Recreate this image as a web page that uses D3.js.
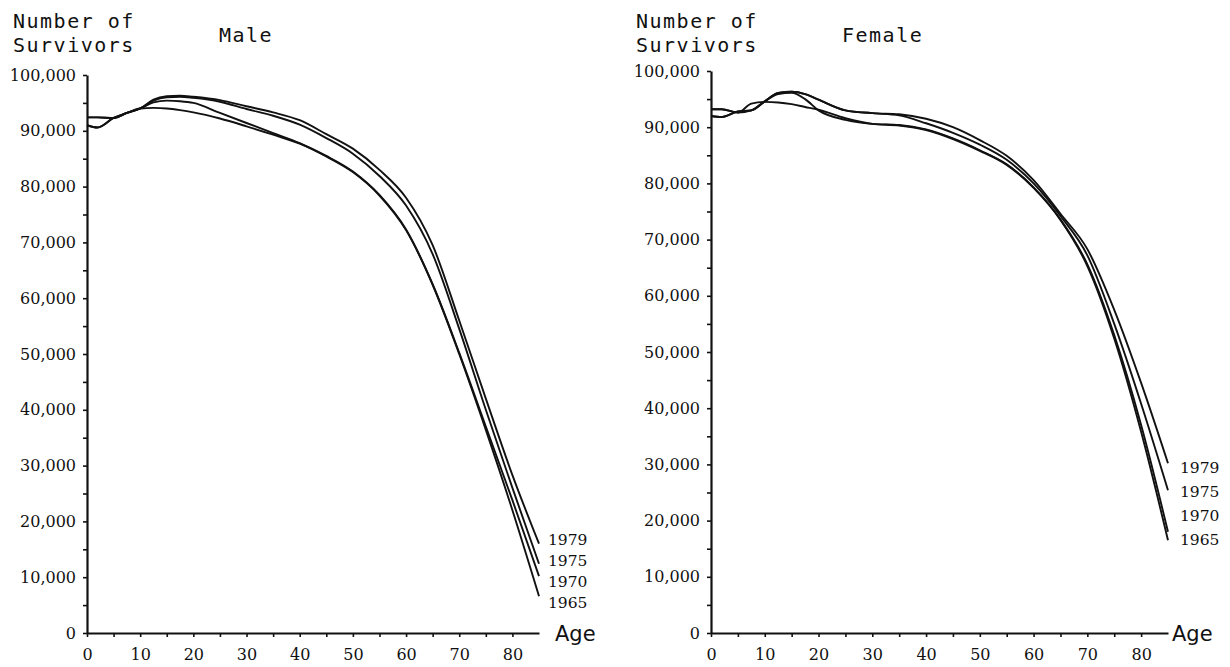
<!DOCTYPE html>
<html><head><meta charset="utf-8">
<script src="https://cdn.jsdelivr.net/npm/d3@7"></script>
<style>html,body{margin:0;padding:0;background:#fff;} svg{display:block;background:#fff}</style>
</head><body><svg id="chart" width="1230" height="667"></svg>
<script>
// ---- data ----
const ages = [0, 2, 5, 7.5, 10, 12.5, 15, 17.5, 20, 25, 30, 35, 40, 45, 50, 55, 60, 65, 70, 75, 80, 85];
const years = ["1979", "1975", "1970", "1965"];

const male1979 = [91000, 90600, 92300, 93200, 94000, 95600, 96200, 96300, 96100, 95500, 94400, 93300, 91900, 89400, 86800, 83000, 78000, 69500, 56000, 42000, 28300, 16000];
const male1975 = [91000, 90600, 92300, 93200, 94000, 95400, 96000, 96100, 95900, 95200, 93900, 92700, 91100, 88700, 85900, 81900, 76600, 67900, 54500, 40000, 26000, 12400];
const male1970 = [92400, 92400, 92300, 93200, 94000, 95100, 95400, 95300, 95000, 93200, 91400, 89600, 87800, 85500, 82700, 78500, 72300, 62500, 50200, 37000, 23800, 10200];
const male1965 = [92400, 92400, 92300, 93200, 94000, 94100, 94000, 93700, 93300, 92200, 90800, 89300, 87700, 85400, 82600, 78400, 72200, 62400, 50000, 36400, 22000, 6600];

const female1979 = [92000, 91800, 92800, 93000, 94600, 96100, 96300, 95900, 94900, 93000, 92500, 92300, 91500, 90000, 87700, 84900, 80600, 74600, 68300, 57500, 44500, 30200];
const female1975 = [92000, 91800, 92800, 93000, 94600, 96100, 96300, 95900, 94900, 93000, 92500, 92100, 90700, 89000, 86900, 84200, 80000, 74200, 67200, 55000, 40800, 25400];
const female1970 = [93200, 93200, 92600, 93000, 94600, 95900, 96100, 95000, 93000, 91300, 90600, 90400, 89600, 88000, 85900, 83400, 79300, 73600, 65600, 53000, 37000, 18000];
const female1965 = [93200, 93200, 92600, 94200, 94500, 94400, 94100, 93600, 93100, 91600, 90600, 90300, 89500, 87900, 85800, 83300, 79200, 73500, 65300, 52400, 35800, 16500];

const yTickValues = d3.range(0, 100001, 5000);
const xTickValues = d3.range(0, 81, 5);
const yAxisTitle = ["Number of", "Survivors"];
const xAxisTitle = "Age";

// ---- drawing ----
const svg = d3.select("#chart");
svg.append("rect").attr("width", 1230).attr("height", 667).attr("fill", "#fff");

function panel(opt) {
  const x = d3.scaleLinear().domain([0, 85]).range([opt.x0, opt.x1]);
  const y = d3.scaleLinear().domain([0, 100000]).range([opt.y0, opt.y1]);
  const g = svg.append("g");

  const yAxis = d3.axisLeft(y).tickValues(yTickValues).tickSize(4).tickPadding(7).tickSizeOuter(0)
    .tickFormat(d => d % 10000 === 0 ? d3.format(",")(d) : "");
  const xAxis = d3.axisBottom(x).tickValues(xTickValues).tickSize(4).tickPadding(12).tickSizeOuter(0)
    .tickFormat(d => d % 10 === 0 ? d : "");

  const ya = g.append("g").attr("transform", `translate(${opt.x0},0)`).call(yAxis);
  const xa = g.append("g").attr("transform", `translate(0,${opt.y0})`).call(xAxis);
  [ya, xa].forEach(a => {
    a.attr("font-family", "'DejaVu Serif', serif").attr("font-size", 16);
    a.select(".domain").attr("stroke", "#111").attr("stroke-width", 2.2);
    a.selectAll(".tick line").attr("stroke", "#111").attr("stroke-width", 1.6);
    a.selectAll(".tick text").attr("fill", "#111")
      .style("font-family", "'DejaVu Serif', serif").style("font-size", "16px");
  });

  const line = d3.line().x((d, i) => x(ages[i])).y(d => y(d)).curve(d3.curveMonotoneX);
  opt.series.forEach(s => {
    g.append("path").datum(s).attr("d", line).attr("fill", "none")
      .attr("stroke", "#111").attr("stroke-width", 1.9);
  });

  // series labels, stacked beside line ends
  years.forEach((yr, i) => {
    g.append("text").attr("x", opt.labelX).attr("y", opt.labelY + i * opt.labelGap)
      .text(yr).attr("fill", "#111")
      .style("font-family", "'DejaVu Serif', serif").style("font-size", "15.5px");
  });

  // axis titles
  yAxisTitle.forEach((t, i) => {
    g.append("text").attr("x", opt.titleX).attr("y", 28 + i * 23.5).text(t)
      .attr("fill", "#111").style("font-family", "'DejaVu Sans Mono', monospace")
      .style("font-size", "20px").style("letter-spacing", "1.5px");
  });
  g.append("text").attr("x", opt.nameX).attr("y", 42).text(opt.name)
    .attr("fill", "#111").style("font-family", "'DejaVu Sans Mono', monospace")
    .style("font-size", "20px").style("letter-spacing", "1.5px");
  g.append("text").attr("x", opt.x1 + opt.ageDx).attr("y", 641).text(xAxisTitle)
    .attr("fill", "#111").style("font-family", "'DejaVu Sans', sans-serif").style("font-size", "21px");
}

panel({
  x0: 87, x1: 539, y0: 633, y1: 75,
  series: [male1979, male1975, male1970, male1965],
  labelX: 548, labelY: 545, labelGap: 21,
  titleX: 13, nameX: 219, name: "Male", ageDx: 16
});
panel({
  x0: 711, x1: 1168, y0: 633, y1: 71,
  series: [female1979, female1975, female1970, female1965],
  labelX: 1180, labelY: 473, labelGap: 24,
  titleX: 636, nameX: 842, name: "Female", ageDx: 4
});
</script>
</body></html>
